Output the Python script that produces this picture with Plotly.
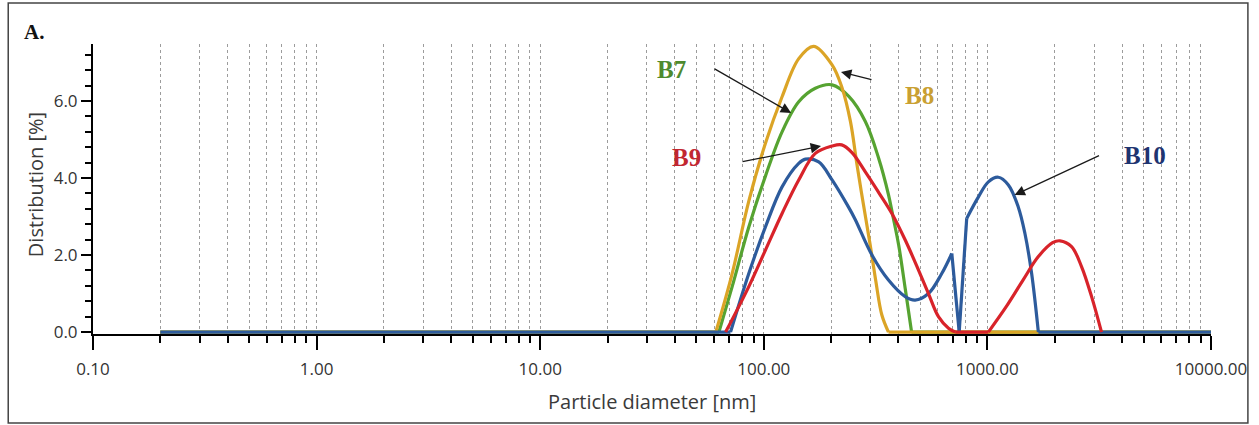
import plotly.graph_objects as go

# ---------------- data ----------------
b7_d = [0.2, 63, 72.2, 85.7, 101.7, 120.7, 143.3, 170, 202, 240, 284.5, 326, 361, 377, 401, 430, 458, 10000]
b7_v = [0, 0, 1.18, 2.73, 4.05, 5.2, 5.98, 6.33, 6.42, 6.12, 5.47, 4.52, 3.57, 3.04, 2.26, 1.09, 0, 0]

b8_d = [0.2, 61, 72.2, 85.7, 101.7, 120.7, 143.3, 167, 202, 224, 244, 261, 279, 299, 317, 337, 361, 10000]
b8_v = [0, 0, 1.52, 3.4, 4.9, 6.11, 7.1, 7.42, 6.94, 6.34, 5.47, 4.35, 3.31, 2.27, 1.32, 0.45, 0, 0]

b9_d = [67.5, 85.7, 101.7, 120.7, 143.3, 170, 202, 223, 248, 284.5, 326, 374, 429, 492, 545, 604, 670, 718,
        1010, 1214, 1443, 1690, 1957, 2111, 2379, 2636, 2924, 3238]
b9_v = [0, 1.18, 2.13, 3.08, 3.95, 4.64, 4.83, 4.86, 4.66, 4.16, 3.63, 3.08, 2.39, 1.61, 1.0, 0.4, 0.1, 0,
        0, 0.66, 1.35, 1.96, 2.32, 2.37, 2.22, 1.7, 0.92, 0]

b10_d = [0.2, 71, 85.7, 101.7, 120.7, 143.3, 153.5, 176, 202, 239, 256, 304.5, 361, 429, 475, 545, 625, 693,
         748, 808, 912, 1010, 1119, 1241, 1374, 1472, 1577, 1690, 10000]
b10_v = [0, 0, 1.52, 2.73, 3.77, 4.38, 4.49, 4.42, 3.95, 3.25, 2.93, 2.0, 1.35, 0.92, 0.83, 1.0, 1.52, 2.04,
         0, 2.95, 3.51, 3.9, 4.02, 3.82, 3.25, 2.56, 1.52, 0, 0]

# points where the curve has a sharp corner (segment breaks)
b7_corners = [63, 458]
b8_corners = [61, 361]
b9_corners = [718, 1010]
b10_corners = [71, 693, 748, 808, 1690]

series_names = ["B7", "B8", "B10", "B9"]

x_tick_vals = [0.1, 1, 10, 100, 1000, 10000]
x_tick_text = ["0.10", "1.00", "10.00", "100.00", "1000.00", "10000.00"]
y_tick_vals = [0, 2, 4, 6]
y_tick_text = ["0.0", "2.0", "4.0", "6.0"]

# ---------------- style ----------------
W, H = 1259, 425
L, R, T, B = 93, 45, 44, 91
PW = W - L - R
PH = H - T - B

def px(x):
    return (x - L) / PW

def py(y):
    return (H - B - y) / PH

line_colors = {"B7": "#56a331", "B8": "#dba426", "B9": "#d8232a", "B10": "#2d5b9c"}
text_colors = {"B7": "#4e8a2e", "B8": "#c9a032", "B9": "#c22630", "B10": "#1f3470"}
data = {"B7": (b7_d, b7_v, b7_corners), "B8": (b8_d, b8_v, b8_corners),
        "B9": (b9_d, b9_v, b9_corners), "B10": (b10_d, b10_v, b10_corners)}

fig = go.Figure()
for name in series_names:
    d, v, corners = data[name]
    cuts = sorted(set([0] + [d.index(c) for c in corners] + [len(d) - 1]))
    for a, b in zip(cuts[:-1], cuts[1:]):
        fig.add_trace(go.Scatter(
            x=d[a:b + 1], y=v[a:b + 1], mode="lines", name=name, legendgroup=name,
            showlegend=False, hoverinfo="skip",
            line=dict(color=line_colors[name], width=3.2, shape="spline", smoothing=1.0)))

grid_col = "#9c9c9c"
fig.update_xaxes(
    type="log", range=[-1, 4], tickmode="array", tickvals=x_tick_vals, ticktext=x_tick_text,
    ticks="outside", ticklen=14, tickwidth=2, tickcolor="black",
    showline=True, linecolor="black", linewidth=2, zeroline=False,
    showgrid=True, gridcolor=grid_col, griddash="dot", gridwidth=1,
    tickfont=dict(family="Open Sans", size=17, color="#333333"), ticklabelstandoff=5,
    minor=dict(dtick="D1", ticks="outside", ticklen=7, tickwidth=1.5, tickcolor="black",
               showgrid=True, gridcolor=grid_col, griddash="dot", gridwidth=1),
)
fig.update_yaxes(
    range=[-0.05, 7.48], tickmode="array", tickvals=y_tick_vals, ticktext=y_tick_text,
    ticks="outside", ticklen=10, tickwidth=2, tickcolor="black",
    showline=True, linecolor="black", linewidth=2, zeroline=False, showgrid=False,
    tickfont=dict(family="Open Sans", size=17, color="#333333"),
    minor=dict(tick0=0, dtick=0.4, ticks="outside", ticklen=6, tickwidth=1.5, tickcolor="black", showgrid=False),
)

shapes = []
# white label boxes hiding the grid
for (x0, x1, y0, y1) in [(625, 707, 47, 92), (628, 736, 133, 180), (880, 962, 70, 117), (1110, 1185, 130, 177)]:
    shapes.append(dict(type="rect", xref="paper", yref="paper", x0=px(x0), x1=px(x1), y0=py(y1), y1=py(y0),
                       fillcolor="white", line=dict(width=0), layer="between"))
# outer frame
shapes.append(dict(type="rect", xref="paper", yref="paper", x0=px(8), x1=px(1251), y0=py(423), y1=py(3),
                   line=dict(color="#444444", width=1.5), fillcolor="rgba(0,0,0,0)", layer="above"))

ann = []
label_pos = {"B7": (673, 70), "B8": (922, 95), "B9": (688, 157), "B10": (1148, 155)}
for name, (x, y) in label_pos.items():
    ann.append(dict(text="<b>%s</b>" % name, x=px(x), y=py(y), xref="paper", yref="paper",
                    xanchor="center", yanchor="middle", showarrow=False,
                    font=dict(family="Liberation Serif", size=25, color=text_colors[name])))
# arrows: head (x, y) and tail (tx, ty) in pixels
arrows = [(793, 113, 715, 68), (843, 72, 875, 80), (823, 146, 743, 162), (1017, 195, 1103, 155)]
for hx, hy, tx, ty in arrows:
    ann.append(dict(text="", x=px(hx), y=py(hy), xref="paper", yref="paper", showarrow=True,
                    ax=tx - hx, ay=ty - hy, arrowhead=2, arrowsize=1.6, arrowwidth=1.3,
                    arrowcolor="#1a1a1a", standoff=0, startstandoff=0))
ann.append(dict(text="<b>A.</b>", x=px(34), y=py(32), xref="paper", yref="paper", showarrow=False,
                xanchor="center", yanchor="middle",
                font=dict(family="Liberation Serif", size=21, color="#111111")))
ann.append(dict(text="Particle diameter [nm]", x=0.5, y=py(401), xref="paper", yref="paper",
                showarrow=False, xanchor="center", yanchor="middle",
                font=dict(family="Open Sans", size=20, color="#3a3a3a")))
ann.append(dict(text="Distribution [%]", x=px(35), y=py(185), xref="paper", yref="paper",
                showarrow=False, xanchor="center", yanchor="middle", textangle=-90,
                font=dict(family="Open Sans", size=20, color="#3a3a3a")))

fig.update_layout(
    width=W, height=H, margin=dict(l=L, r=R, t=T, b=B, pad=0),
    paper_bgcolor="white", plot_bgcolor="white", showlegend=False,
    shapes=shapes, annotations=ann,
)
fig.write_html("out.html")
